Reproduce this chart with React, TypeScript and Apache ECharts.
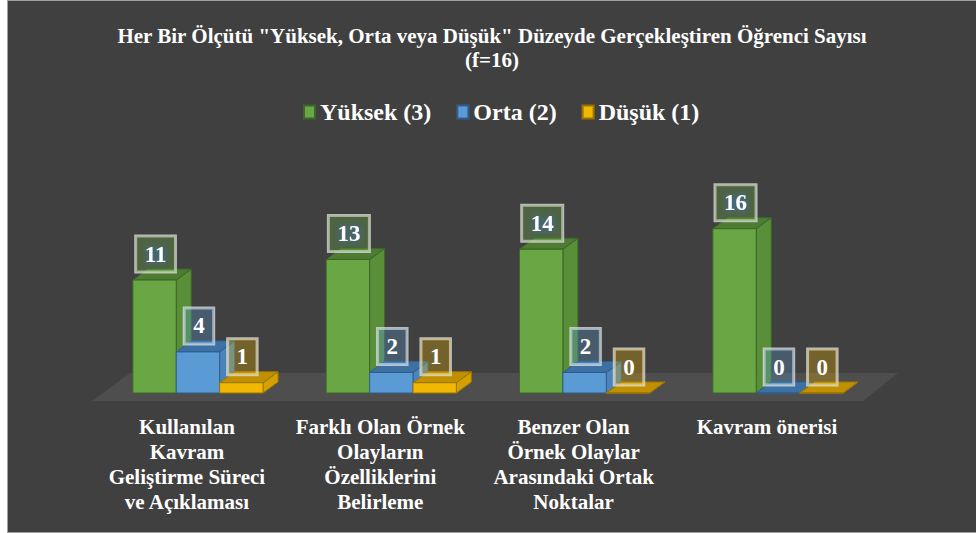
import React, { useEffect, useRef } from "react";
import * as echarts from "echarts";

const categories = [
  "Kullanılan\nKavram\nGeliştirme Süreci\nve Açıklaması",
  "Farklı Olan Örnek\nOlayların\nÖzelliklerini\nBelirleme",
  "Benzer Olan\nÖrnek Olaylar\nArasındaki Ortak\nNoktalar",
  "Kavram önerisi",
];
const seriesNames = ["Yüksek (3)", "Orta (2)", "Düşük (1)"];
const yuksek = [11, 13, 14, 16];
const orta = [4, 2, 2, 0];
const dusuk = [1, 1, 0, 0];
const titleText =
  'Her Bir Ölçütü "Yüksek, Orta veya Düşük" Düzeyde Gerçekleştiren Öğrenci Sayısı\n(f=16)';

const palette = [
  { front: "#69a744", side: "#5a8f3a", top: "#4e7c33", border: "#3d6628", box: "rgba(112,173,71,0.32)" },
  { front: "#5b9bd5", side: "#4a84ba", top: "#3d70a3", border: "#2f5e8c", box: "rgba(91,155,213,0.3)" },
  { front: "#f2b700", side: "#d49f00", top: "#c09000", border: "#9c7500", box: "rgba(235,180,0,0.3)" },
];

const FONT = "Liberation Serif";

const renderItem = (params: any, api: any) => {
  const s = params.seriesIndex;
  const p = palette[s];
  const idx = api.value(0);
  const v = api.value(1);
  const base = api.coord([idx, 0]);
  const topPt = api.coord([idx, v]);
  const band = api.size([1, 0])[0];
  const bw = band * 0.2245;
  const x0 = base[0] - 1.5 * bw + s * bw;
  const y0 = base[1];
  const yt = topPt[1];
  const dx = 15;
  const dy = 11;
  return {
    type: "group",
    children: [
      {
        type: "polygon",
        shape: { points: [[x0 + bw, yt], [x0 + bw + dx, yt - dy], [x0 + bw + dx, y0 - dy], [x0 + bw, y0]] },
        style: { fill: p.side, stroke: p.border, lineWidth: 1 },
      },
      {
        type: "polygon",
        shape: { points: [[x0, yt], [x0 + dx, yt - dy], [x0 + bw + dx, yt - dy], [x0 + bw, yt]] },
        style: { fill: p.top, stroke: p.border, lineWidth: 1 },
      },
      {
        type: "rect",
        shape: { x: x0, y: yt, width: bw, height: y0 - yt },
        style: { fill: p.front, stroke: p.border, lineWidth: 1 },
      },
      {
        type: "text",
        x: x0 + bw / 2 + 1,
        y: yt - 8,
        z2: 100,
        style: {
          text: String(v),
          fill: "#ffffff",
          fontFamily: FONT,
          fontWeight: "bold",
          fontSize: 23,
          lineHeight: 24,
          align: "center",
          verticalAlign: "bottom",
          backgroundColor: p.box,
          borderColor: "rgba(225,225,225,0.75)",
          borderWidth: 1.5,
          padding: [6, 9, 6, 9],
          textShadowColor: s === 0 ? "#2f6fe0" : "rgba(0,0,0,0)",
          textShadowBlur: s === 0 ? 6 : 0,
        },
      },
    ],
  };
};

export default function App() {
  const ref = useRef<HTMLDivElement>(null);
  useEffect(() => {
    if (!ref.current) return;
    const chart = echarts.init(ref.current, null, { renderer: "svg" });
    const values = [yuksek, orta, dusuk];
    chart.setOption({
      animation: false,
      backgroundColor: "#404040",
      title: {
        text: titleText,
        left: "center",
        top: 23,
        padding: [0, 0, 0, 14],
        textStyle: { color: "#ffffff", fontFamily: FONT, fontWeight: "bold", fontSize: 21, lineHeight: 24 },
      },
      legend: {
        data: seriesNames,
        left: 295,
        top: 99,
        padding: 0,
        icon: "rect",
        itemWidth: 11,
        itemHeight: 13,
        itemGap: 25,
        textStyle: { color: "#ffffff", fontFamily: FONT, fontWeight: "bold", fontSize: 24 },
      },
      grid: { left: 93.3, right: 101.4, top: 186.6, bottom: 139 },
      xAxis: {
        type: "category",
        data: categories,
        axisLine: { show: false },
        axisTick: { show: false },
        axisLabel: {
          interval: 0,
          color: "#ffffff",
          fontFamily: FONT,
          fontWeight: "bold",
          fontSize: 21,
          lineHeight: 25,
          margin: 21,
          padding: [0, 22, 0, 0],
        },
      },
      yAxis: { type: "value", min: 0, max: 20, show: false, splitLine: { show: false } },
      graphic: [
        {
          type: "polygon",
          z: 0,
          shape: { points: [[84, 400], [122, 372], [890, 372], [855, 400]] },
          style: { fill: "#4e4e4e" },
        },
      ],
      series: seriesNames.map((name, s) => ({
        type: "custom",
        name,
        z: 2,
        clip: false,
        renderItem,
        itemStyle: { color: palette[s].front, borderColor: palette[s].border, borderWidth: 1 },
        encode: { x: 0, y: 1 },
        data: values[s].map((v, i) => [i, v]),
      })),
    });
    return () => chart.dispose();
  }, []);
  return (
    <div style={{ position: "absolute", left: 0, top: 0, width: 976, height: 533, background: "#ffffff" }}>
      <div
        ref={ref}
        style={{
          position: "absolute",
          left: 7,
          top: 0,
          width: 969,
          height: 533,
          boxSizing: "border-box",
          borderTop: "1px solid #a0a0a0",
          borderLeft: "1px solid #a0a0a0",
          borderBottom: "1px solid #a0a0a0",
        }}
      />
    </div>
  );
}
